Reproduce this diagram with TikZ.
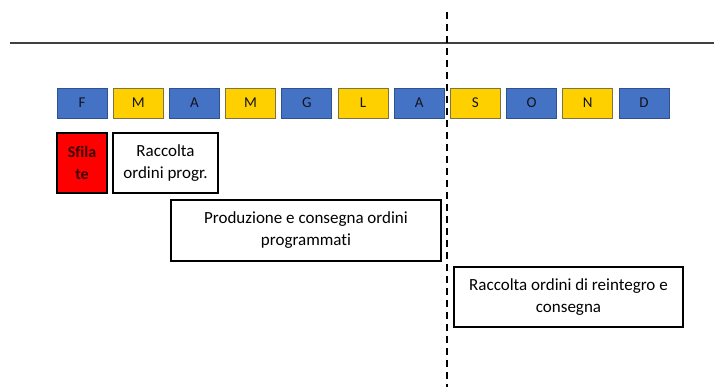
\documentclass[tikz,border=0pt]{standalone}
\usepackage{fontspec}
\setmainfont{Carlito}[Ligatures=NoCommon]
\usepackage{xcolor}
\usetikzlibrary{positioning,calc}
\definecolor{monthblue}{RGB}{68,114,196}
\definecolor{monthblueline}{RGB}{47,82,143}
\definecolor{monthgold}{RGB}{255,208,0}
\definecolor{monthgoldline}{RGB}{125,115,70}
\definecolor{fashionred}{RGB}{255,0,0}
\definecolor{lettergray}{RGB}{20,20,30}

\begin{document}
\begin{tikzpicture}[x=1pt,y=-1pt,
  month/.style={draw, line width=0.9pt, minimum width=50pt, minimum height=30pt,
    inner sep=0pt, text=lettergray, font=\fontsize{15}{18}\selectfont},
  bluemonth/.style={month, fill=monthblue, draw=monthblueline},
  goldmonth/.style={month, fill=monthgold, draw=monthgoldline},
  phase/.style={draw, line width=1.8pt, fill=white, minimum height=60pt, inner sep=0pt,
    align=center, font=\fontsize{17}{22}\selectfont}]
\useasboundingbox (0,0) rectangle (714,387);

% Timeline rule and split between programmed and reorder season
\coordinate (ruleL) at (10,43);
\coordinate (ruleR) at (714,43);
\draw[line width=1.8pt, black!75] (ruleL) -- (ruleR);
\coordinate (splitT) at (447,12);
\coordinate (splitB) at (447,387);
\draw[line width=1.6pt, dash pattern=on 7pt off 5pt] (splitT) -- (splitB);

% Months
\node[bluemonth] (F) at (82,103) {F};
\node[goldmonth] (M1) at (138.2,103) {M};
\node[bluemonth] (A1) at (194.4,103) {A};
\node[goldmonth] (M2) at (250.6,103) {M};
\node[bluemonth] (G) at (306.8,103) {G};
\node[goldmonth] (L) at (363,103) {L};
\node[bluemonth] (A2) at (419.2,103) {A};
\node[goldmonth] (S) at (475.4,103) {S};
\node[bluemonth] (O) at (531.6,103) {O};
\node[goldmonth] (N) at (587.8,103) {N};
\node[bluemonth] (D) at (644,103) {D};

% Phases
\node[phase, fill=fashionred, minimum width=50pt, text={rgb,255:red,60;green,0;blue,0},
  font=\fontsize{16}{22}\selectfont\bfseries] (sfilate) at (82,163) {Sfila\\te};
\node[phase, minimum width=105pt] (raccolta) at (165.5,163) {Raccolta\\ordini progr.};
\node[phase, minimum width=270pt, minimum height=61pt] (produzione) at (306,230.5)
  {Produzione e consegna ordini\\programmati};
\node[phase, minimum width=229pt] (reintegro) at (568.5,297)
  {Raccolta ordini di reintegro e\\consegna};
\end{tikzpicture}
\end{document}
